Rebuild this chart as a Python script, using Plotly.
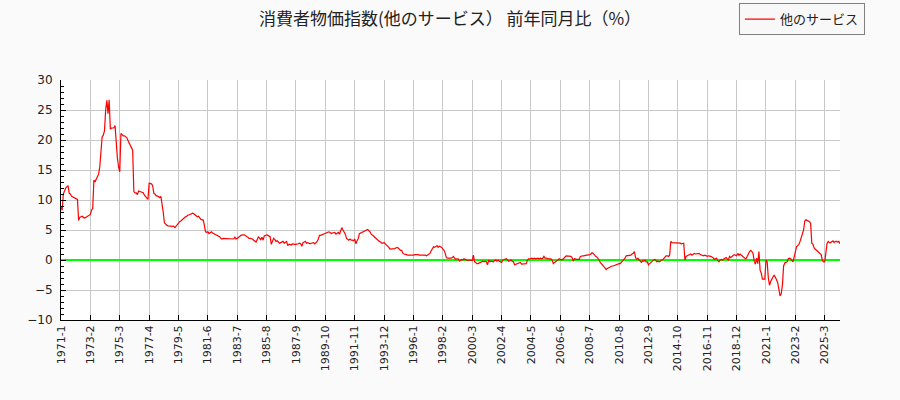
import plotly.graph_objects as go

# 消費者物価指数（他のサービス） 前年同月比（%）, monthly from 1971-1
v1970s = [
    8.8, 8.3, 11.0, 11.7, 12.0, 12.2, 12.4, 11.1, 11.0, 10.6, 10.5, 10.3,   # 1971
    10.2, 10.1, 10.1, 6.6, 7.1, 7.2, 7.3, 7.1, 7.0, 7.1, 7.2, 7.4,          # 1972
    7.4, 7.6, 8.3, 8.6, 13.3, 13.0, 13.5, 14.0, 14.3, 15.5, 18.3, 20.5,     # 1973
    20.8, 21.5, 25.0, 26.6, 24.4, 26.7, 21.8, 22.0, 22.0, 22.0, 22.4, 19.0, # 1974
    17.0, 15.5, 14.7, 21.1, 20.8, 20.7, 20.7, 20.6, 20.4, 19.9, 19.5, 19.1, # 1975
    18.8, 18.3, 11.4, 11.2, 11.2, 10.9, 11.5, 11.4, 11.3, 11.3, 11.2, 10.8, # 1976
    10.5, 10.2, 10.1, 12.8, 12.8, 12.7, 12.4, 11.1, 11.0, 10.7, 10.7, 10.6, # 1977
    10.4, 10.6, 9.4, 8.0, 6.2, 5.9, 5.8, 5.7, 5.7, 5.7, 5.6, 5.7,           # 1978
    5.6, 5.4, 5.7, 5.9, 6.1, 6.4, 6.5, 6.7, 6.8, 7.0, 7.2, 7.3,             # 1979
]
v1980s = [
    7.5, 7.5, 7.6, 7.8, 7.8, 7.7, 7.5, 7.3, 7.2, 7.3, 7.0, 6.8,
    6.7, 6.7, 5.8, 4.7, 4.6, 4.7, 4.4, 4.6, 4.7, 4.5, 4.4, 4.3,
    4.2, 4.2, 4.1, 3.9, 3.6, 3.5, 3.6, 3.6, 3.5, 3.6, 3.6, 3.5,
    3.6, 3.6, 3.6, 3.5, 3.8, 3.5, 3.6, 3.7, 3.9, 4.1, 4.2, 4.2,
    4.2, 4.0, 3.9, 3.8, 3.6, 3.6, 3.6, 3.5, 3.3, 3.1, 3.0, 3.4,
    3.9, 3.6, 3.4, 3.8, 3.3, 4.0, 4.1, 4.2, 4.1, 4.0, 3.9, 2.6,
    3.3, 3.6, 3.4, 3.1, 3.2, 2.9, 2.8, 2.9, 3.0, 3.1, 2.8, 3.0,
    3.1, 2.4, 2.6, 2.6, 2.5, 2.7, 2.6, 2.6, 2.6, 2.6, 2.7, 2.8,
    2.7, 2.3, 2.9, 3.0, 3.1, 2.8, 2.9, 2.8, 2.7, 2.8, 2.8, 2.9,
    2.7, 2.9, 3.1, 3.5, 4.1, 4.1, 4.2, 4.2, 4.3, 4.4, 4.6, 4.7,
]
v1990s = [
    4.7, 4.6, 4.4, 4.5, 4.6, 4.6, 4.3, 4.5, 4.6, 4.3, 5.0, 5.4,
    5.0, 4.6, 4.3, 3.6, 3.4, 3.3, 3.5, 3.3, 3.3, 3.2, 3.5, 2.7,
    3.2, 3.6, 4.4, 4.5, 4.6, 4.6, 4.7, 4.8, 5.0, 5.1, 4.9, 4.7,
    4.3, 4.2, 4.0, 3.8, 3.6, 3.4, 3.2, 3.1, 3.0, 2.8, 2.8, 2.9,
    2.7, 2.5, 2.4, 2.1, 1.8, 1.8, 1.8, 1.8, 1.9, 2.0, 2.1, 2.0,
    1.7, 1.6, 1.6, 1.1, 1.0, 1.0, 0.9, 0.8, 0.8, 0.7, 0.7, 0.7,
    0.8, 0.9, 0.9, 1.0, 0.9, 0.8, 0.8, 0.9, 0.8, 0.8, 0.8, 0.7,
    0.8, 0.9, 1.1, 1.5, 1.9, 2.2, 2.1, 2.3, 2.4, 2.1, 2.3, 2.2,
    2.1, 1.8, 1.6, 1.1, 0.4, 0.3, 0.3, 0.2, 0.3, 0.4, 0.6, 0.3,
    0.1, 0.2, 0.2, -0.2, -0.1, 0.1, 0.0, 0.2, 0.1, 0.0, -0.1, 0.0,
]
v2000s = [
    0.0, -0.1, -0.1, 0.8, -0.3, -0.4, -0.6, -0.6, -0.5, -0.4, -0.4, -0.2,
    -0.3, -0.2, -0.3, -0.8, 0.0, -0.3, -0.2, -0.2, -0.3, -0.1, 0.0, -0.2,
    0.0, -0.2, -0.3, -0.4, 0.0, 0.1, 0.1, 0.2, 0.0, -0.2, -0.1, 0.0,
    -0.2, -0.3, -0.8, -0.7, -0.7, -0.6, -0.5, -0.4, -0.7, -0.7, -0.7, -0.7,
    -0.6, 0.0, 0.2, 0.2, 0.3, 0.3, 0.2, 0.3, 0.2, 0.3, 0.3, 0.2,
    0.3, 0.2, 0.3, 0.6, 0.3, 0.3, 0.2, 0.2, 0.2, 0.2, 0.0, -0.6,
    -0.4, -0.3, -0.1, 0.0, 0.2, 0.1, 0.0, 0.1, 0.4, 0.5, 0.7, 0.7,
    0.7, 0.6, 0.6, 0.4, -0.2, 0.2, 0.1, 0.1, 0.1, 0.1, 0.6, 0.7,
    0.7, 0.7, 0.8, 0.8, 0.8, 0.8, 0.9, 1.0, 1.2, 1.1, 0.8, 0.6,
    0.5, 0.3, 0.0, -0.4, -0.7, -0.9, -1.1, -1.3, -1.6, -1.4, -1.3, -1.1,
]
v2010s = [
    -1.0, -1.0, -1.0, -0.9, -0.8, -0.8, -0.7, -0.6, -0.6, -0.4, -0.2, 0.0,
    0.3, 0.7, 0.7, 0.7, 0.7, 0.8, 1.0, 1.1, 1.4, 0.4, 0.1, 0.3,
    0.0, -0.2, -0.4, -0.1, -0.2, 0.0, -0.3, -0.3, -0.8, -0.6, -0.4, -0.3,
    0.0, 0.1, 0.0, -0.3, -0.2, -0.3, -0.2, 0.0, 0.0, 0.3, 0.6, 0.7,
    0.7, 0.6, 0.8, 3.1, 2.9, 2.9, 2.9, 2.9, 2.9, 2.8, 2.8, 2.8,
    2.7, 2.8, 2.8, 0.0, 0.6, 0.7, 0.8, 0.9, 1.0, 0.8, 1.0, 1.1,
    1.0, 1.0, 1.0, 1.1, 0.9, 0.8, 0.7, 0.7, 0.8, 0.7, 0.6, 0.7,
    0.7, 0.6, 0.5, 0.4, 0.1, 0.2, 0.3, -0.1, -0.3, 0.0, 0.1, 0.0,
    0.2, 0.3, 0.4, 0.1, 0.0, 0.6, 0.4, 0.6, 0.8, 0.9, 0.8, 0.7,
    1.1, 0.8, 1.0, 0.8, 0.6, 0.5, 0.3, 0.2, 0.5, 1.0, 1.4, 1.6,
]
v2020s = [
    1.4, 1.1, -0.2, -0.7, 0.3, -0.6, 1.4, -1.7, -2.2, -3.2, -3.2, -3.2,
    0.0, -0.3, -3.0, -4.2, -3.6, -3.1, -2.8, -2.5, -3.1, -3.3, -3.8, -5.0,
    -6.0, -5.6, -4.2, -1.0, -0.5, -0.4, -0.3, 0.2, 0.3, 0.2, 0.0, -0.3,
    0.5, 1.4, 2.2, 2.4, 2.6, 3.1, 3.9, 4.5, 5.0, 6.5, 6.7, 6.6,
    6.5, 6.4, 6.1, 2.8, 2.6, 2.0, 1.8, 1.6, 1.4, 1.3, 1.1, 0.9,
    -0.1, -0.3, -0.3, 1.5, 2.8, 3.1, 2.9, 2.9, 3.0, 3.2, 2.9, 3.1,
    3.1, 3.0, 3.1, 2.7,
]

values = v1970s + v1980s + v1990s + v2000s + v2010s + v2020s
months = [f"{1971 + i // 12}-{i % 12 + 1}" for i in range(len(values))]
tick_labels = months[::25]

fig = go.Figure()
fig.add_trace(go.Scatter(x=months, y=values, mode='lines', name='他のサービス',
                         line=dict(color='#ff0000', width=1.2)))

fig.update_layout(
    width=900, height=400,
    margin=dict(l=61, r=60, t=80, b=80, autoexpand=False),
    paper_bgcolor='#fafafa',
    plot_bgcolor='#ffffff',
    font=dict(family='DejaVu Sans', size=12, color='#222222'),
    title=dict(text='消費者物価指数(他のサービス） 前年同月比（%）', x=0.5, xanchor='center',
               y=0.953, yanchor='middle',
               font=dict(family='Noto Sans CJK JP', size=17, color='#222222')),
    showlegend=True,
    legend=dict(xref='container', yref='container', x=0.821, y=0.992,
                xanchor='left', yanchor='top', itemwidth=30,
                bgcolor='#f8f8f8', bordercolor='#808080', borderwidth=1,
                font=dict(family='Noto Sans CJK JP', size=13, color='#222222')),
)

fig.update_xaxes(
    type='category', range=[0, len(values) - 1],
    tickvals=tick_labels, ticktext=tick_labels, tickangle=-90,
    tickfont=dict(size=11),
    showgrid=True, gridcolor='#c8c8c8', gridwidth=1,
    ticks='inside', ticklen=5, tickcolor='#000000',
    showline=True, linecolor='#000000', linewidth=1,
)
fig.update_yaxes(
    range=[-10, 30], dtick=5, ticklabelstandoff=5,
    showgrid=True, gridcolor='#c8c8c8', gridwidth=1,
    ticks='inside', ticklen=5, tickcolor='#000000',
    minor=dict(dtick=1, ticks='inside', ticklen=3, tickcolor='#000000', showgrid=False),
    showline=True, linecolor='#000000', linewidth=1,
    zeroline=True, zerolinecolor='#00ff00', zerolinewidth=1.5,
)

# the page's default body margin would shift the figure by 8px
fig.write_html("out.html", config={'displayModeBar': False},
               post_script="document.body.style.margin='0';")
